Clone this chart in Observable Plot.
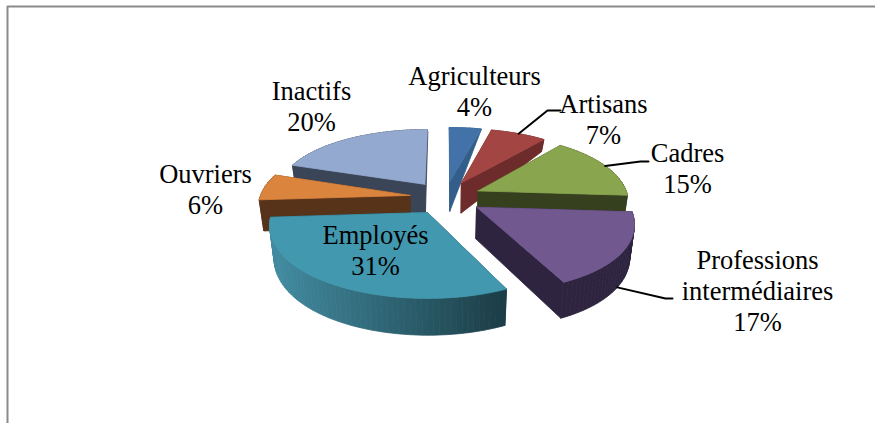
<!DOCTYPE html>
<html><head><meta charset="utf-8">
<style>html,body{margin:0;padding:0;background:#fff}svg{display:block}</style>
<script src="https://cdn.jsdelivr.net/npm/d3@7"></script>
<script src="https://cdn.jsdelivr.net/npm/@observablehq/plot@0.6"></script>
</head><body><script>
const categories = ["Agriculteurs","Artisans","Cadres","Professions\nintermédiaires","Employés","Ouvriers","Inactifs"];
const shares = [4,7,15,17,31,6,20];
const topColors = ["#4372a8","#a34542","#89a54e","#71588f","#4198af","#db843d","#93a9cf"];
const wallColors = ["#345e8a","#6d2c2b","#36401f","#2e2440","#1c3e48","#57331a","#3b4558"];
const rimLight = ["#345e8a","#6d2c2b","#36401f","#2e2440","#418a9f","#57331a","#3b4558"];
const drawOrder = [0,1,6,2,5,3,4];

// layout of the pie
const cx=445, cy=197, R=150, E=36, K=.47, H=31;
// label centres and leader elbows (separate from the data)
const labelX = [474,603,687,757,375,205,311];
const labelY = [90.5,118.5,167.5,289.5,249.5,188.5,105.5];
const leaders = {1:[[547,110],[560,110]],2:[[640,161],[648,161]],3:[[665,298],[672,298]]};

const TAU=Math.PI*2;
const proj=(X,Y)=>{
  const sx=1/(1+(Y>0?.14:.17)*Y/R), sy=1/(1+(Y>0?.2:.13)*Y/R);
  return {x:cx+X*sx+(Y<0?4.5*(-Y/156):0),y:cy-K*Y*sy,Y};
};
const lower=p=>{
  const h=p.Y>0?H*(1-Math.min(1,(p.Y/190)**2)):H+5*Math.min(1.2,-p.Y/156);
  return {x:cx+(p.x-cx)*.975,y:p.y+h};
};
let cum=0;
const slices=shares.map((v,i)=>{const a0=cum/100*TAU;cum+=v;const a1=cum/100*TAU;const m=(a0+a1)/2;
  const ox=E*Math.sin(m),oy=E*Math.cos(m);
  const rim=a=>proj(ox+R*Math.sin(a),oy+R*Math.cos(a));
  return {i,a0,a1,m,ox,oy,rim,apex:proj(ox,oy)};});

const polys=[];let id=0;
const add=(pts,color)=>{id++;[...pts,pts[0]].forEach(p=>polys.push({id,x:p.x,y:p.y,color}));};
for(const k of drawOrder){
  const s=slices[k],n=Math.max(6,Math.round((s.a1-s.a0)/TAU*200));
  const A=d3.range(n+1).map(j=>s.a0+(s.a1-s.a0)*j/n);
  const arc=A.map(s.rim);
  // cut faces
  for(const c of [arc[0],arc[n]]) add([s.apex,c,lower(c),lower(s.apex)],wallColors[k]);
  // outer wall in narrow strips, shaded from left to right
  const shade=d3.interpolateRgb(rimLight[k],wallColors[k]);
  for(let j=0;j<n;j++){
    const p=arc[j],q=arc[j+1];
    const t=Math.max(0,Math.min(1,((p.x+q.x)/2-275)/225));
    add([p,q,lower(q),lower(p)],shade(t));
  }
  add([s.apex,...arc],topColors[k]);
}
const leaderRows=[];
for(const k in leaders){const s=slices[k];
  const st=k==3?lower(s.rim(s.m+.02)):s.rim(s.m);
  [st,...leaders[k].map(([x,y])=>({x,y}))].forEach(p=>leaderRows.push({k,x:p.x,y:p.y}));}
const labels=shares.map((v,i)=>({t:categories[i]+"\n"+v+"%",x:labelX[i],y:labelY[i]}));
const frame=[{x:875,y:6},{x:7,y:6},{x:7,y:423}];

const chart=Plot.plot({
  width:875,height:423,margin:0,
  style:{background:"#fff"},
  x:{domain:[0,875],range:[0,875],axis:null},
  y:{domain:[0,423],range:[0,423],axis:null},
  color:{type:"identity"},
  marks:[
    Plot.line(frame,{x:"x",y:"y",stroke:"#8a8a8a",strokeWidth:2}),
    Plot.line(polys,{x:"x",y:"y",z:"id",fill:"color",stroke:"color",strokeWidth:.8,strokeLinejoin:"round"}),
    Plot.line(leaderRows,{x:"x",y:"y",z:"k",stroke:"#000",strokeWidth:2}),
    Plot.text(labels,{x:"x",y:"y",text:"t",fontFamily:"Liberation Serif",fontSize:26.5,lineHeight:1.16,fill:"#000"})
  ]
});
document.body.appendChild(chart);
</script></body></html>
